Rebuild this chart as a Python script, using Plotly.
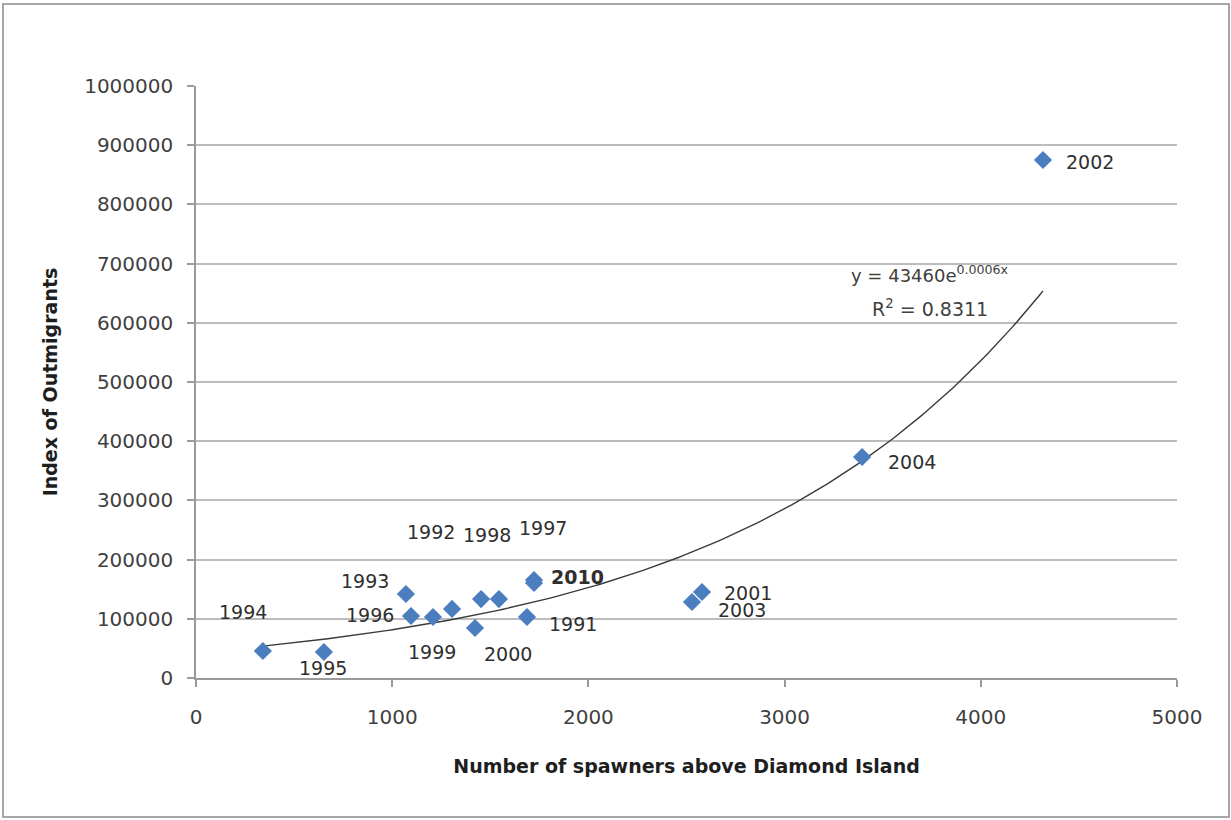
import numpy as np
import plotly.graph_objects as go

# Spawners above Diamond Island vs. index of outmigrants, by brood year
spawners = [341, 652, 1070, 1096, 1208, 1305, 1422, 1453, 1544, 1687, 1723, 1723, 2528, 2579, 3395, 4317]
outmigrants = [45600, 43900, 141900, 104700, 103000, 116600, 84500, 133400, 133400, 103000,
               165500, 160500, 128400, 145300, 373300, 875000]
years = ["1994", "1995", "1993", "1996", "1999", "1992", "2000", "1998", "", "1991",
         "1997", "<b>2010</b>", "2003", "2001", "2004", "2002"]

# label offsets from each marker, in pixels (x right, y up)
label_dx = [-20, -1, -41, -41, -1, -21, 33, 6, 0, 46, 9, 43, 50, 46, 50, 47]
label_dy = [39, -16, 13, 1, -35, 77, -26, 64, 0, -7, 52, 6, -8, -1, -5, -2]

# exponential trendline y = A * exp(k * x)
TREND_A = 43460
TREND_K = 0.000628
equation_text = "y = 43460e<sup>0.0006x</sup>"
r2_text = "R<sup>2</sup> = 0.8311"

x_ticks = [0, 1000, 2000, 3000, 4000, 5000]
y_ticks = [0, 100000, 200000, 300000, 400000, 500000, 600000, 700000, 800000, 900000, 1000000]

W, H = 1231, 820
ML, MR, MT, MB = 196, 54, 86, 142
PW, PH = W - ML - MR, H - MT - MB

FONT = "DejaVu Sans"
TICK_COLOR = "#3f3f3f"
GRID = "#bcbcbc"
BLUE = "#4a7ebf"


def px_to_paper_x(px):
    return (px - ML) / PW


def px_to_paper_y(py):
    return (H - py - MB) / PH


trend_x = np.linspace(min(spawners), max(spawners), 200)
trend_y = TREND_A * np.exp(TREND_K * trend_x)

fig = go.Figure()
fig.add_trace(go.Scatter(
    x=trend_x, y=trend_y, mode="lines",
    line=dict(color="#3a3a3a", width=1.4),
    hoverinfo="skip", showlegend=False,
))
fig.add_trace(go.Scatter(
    x=spawners, y=outmigrants, mode="markers",
    marker=dict(symbol="diamond", size=14, color=BLUE, line=dict(width=0)),
    showlegend=False,
))

annotations = []
for xv, yv, lab, dx, dy in zip(spawners, outmigrants, years, label_dx, label_dy):
    if not lab:
        continue
    annotations.append(dict(
        x=xv, y=yv, xref="x", yref="y", text=lab, showarrow=False,
        xshift=dx, yshift=dy, xanchor="center", yanchor="middle",
        font=dict(family=FONT, size=19, color="#2f2f2f"),
    ))

# trendline equation and R-squared
annotations.append(dict(
    x=px_to_paper_x(930), y=px_to_paper_y(274), xref="paper", yref="paper",
    text=equation_text, showarrow=False, xanchor="center", yanchor="middle",
    font=dict(family=FONT, size=18, color="#404040"),
))
annotations.append(dict(
    x=px_to_paper_x(930), y=px_to_paper_y(308), xref="paper", yref="paper",
    text=r2_text, showarrow=False, xanchor="center", yanchor="middle",
    font=dict(family=FONT, size=19, color="#404040"),
))

shapes = [
    # white patch breaking the top gridline
    dict(type="rect", xref="paper", yref="paper",
         x0=px_to_paper_x(531), x1=px_to_paper_x(703),
         y0=px_to_paper_y(95), y1=px_to_paper_y(76),
         fillcolor="white", line=dict(width=0), layer="above"),
    # outer frame of the chart
    dict(type="rect", xref="paper", yref="paper",
         x0=px_to_paper_x(3), x1=px_to_paper_x(1229),
         y0=px_to_paper_y(817), y1=px_to_paper_y(4),
         fillcolor="rgba(0,0,0,0)", line=dict(color="#a6a6a6", width=2)),
]

fig.update_layout(
    width=W, height=H,
    margin=dict(l=ML, r=MR, t=MT, b=MB),
    paper_bgcolor="white", plot_bgcolor="white",
    font=dict(family=FONT, color=TICK_COLOR),
    annotations=annotations,
    shapes=shapes,
    xaxis=dict(
        range=[0, 5000], tickvals=x_ticks, ticktext=[str(v) for v in x_ticks],
        showgrid=False, zeroline=False,
        showline=True, linecolor="#9a9a9a", linewidth=1.5,
        ticks="outside", ticklen=7, tickcolor="#9a9a9a", tickwidth=1.5,
        ticklabelstandoff=13,
        tickfont=dict(family=FONT, size=20, color=TICK_COLOR),
        title=dict(text="<b>Number of spawners above Diamond Island</b>",
                   font=dict(family=FONT, size=19, color="#1e1e1e"), standoff=32),
    ),
    yaxis=dict(
        range=[0, 1000000], tickvals=y_ticks, ticktext=[str(v) for v in y_ticks],
        showgrid=True, gridcolor=GRID, gridwidth=1.5, zeroline=False,
        showline=True, linecolor="#9a9a9a", linewidth=1.5,
        ticks="outside", ticklen=7, tickcolor="#9a9a9a", tickwidth=1.5,
        ticklabelstandoff=10,
        tickfont=dict(family=FONT, size=20, color=TICK_COLOR),
        title=dict(text="<b>Index of Outmigrants</b>",
                   font=dict(family=FONT, size=19, color="#1e1e1e"), standoff=22),
    ),
)

fig.write_html("out.html")
